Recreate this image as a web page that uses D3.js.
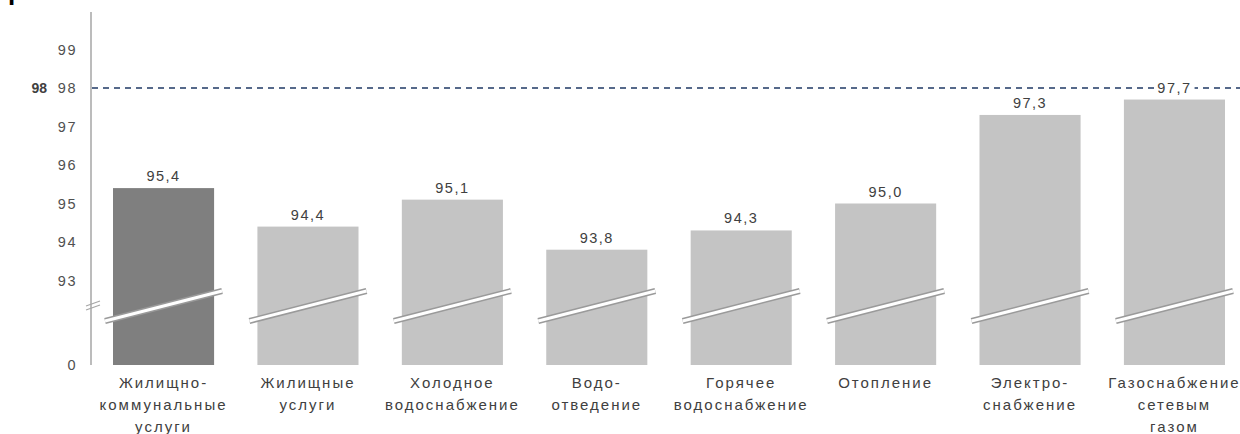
<!DOCTYPE html>
<html>
<head>
<meta charset="utf-8">
<script src="https://cdn.jsdelivr.net/npm/d3@7"></script>
<style>
  html, body { margin: 0; padding: 0; background: #fff; }
  svg { display: block; }
  text { font-family: "Liberation Sans", Arial, sans-serif; }
</style>
</head>
<body>
<svg id="chart" width="1240" height="434"></svg>
<script>
// Categories (each label split into its printed lines)
const categories = [
  ["Жилищно-", "коммунальные", "услуги"],
  ["Жилищные", "услуги"],
  ["Холодное", "водоснабжение"],
  ["Водо-", "отведение"],
  ["Горячее", "водоснабжение"],
  ["Отопление"],
  ["Электро-", "снабжение"],
  ["Газоснабжение", "сетевым", "газом"]
];
const values = [95.4, 94.4, 95.1, 93.8, 94.3, 95.0, 97.3, 97.7];
const valueLabels = ["95,4", "94,4", "95,1", "93,8", "94,3", "95,0", "97,3", "97,7"];
const tickValues = [0, 93, 94, 95, 96, 97, 98, 99];
const threshold = 98;
const highlightIndex = 0;

const svg = d3.select("#chart");
const keys = categories.map((c, i) => "c" + i);

// Broken value axis: 0 sits at the base, 93..99 spread evenly above the break
const y = d3.scaleLinear()
  .domain([0, 93, 99])
  .range([365, 280.5, 49.5]);

const x = d3.scaleBand()
  .domain(keys)
  .range([113, 1225])
  .paddingInner(0.3)
  .paddingOuter(0);

// Bold heading fragment cut at the top edge
svg.append("text")
  .attr("x", 8).attr("y", 0)
  .attr("font-family", "Liberation Serif, serif")
  .attr("font-weight", "bold")
  .attr("font-size", 26)
  .attr("fill", "#000")
  .text("р");

// Left axis line
const axisX = 91;
svg.append("line")
  .attr("x1", axisX).attr("x2", axisX)
  .attr("y1", 12).attr("y2", y(0))
  .attr("stroke", "#a6a6a6").attr("stroke-width", 1.5);

// Axis break marks
[0, 4].forEach(d => {
  svg.append("line")
    .attr("x1", axisX - 5).attr("y1", 306 + d)
    .attr("x2", axisX + 9).attr("y2", 301 + d)
    .attr("stroke", "#a6a6a6").attr("stroke-width", 1.3);
});

// Tick labels
const axis = d3.axisLeft(y).tickValues(tickValues).tickSize(0).tickPadding(0);
const gAxis = svg.append("g").attr("transform", `translate(${axisX - 14},0)`).call(axis);
gAxis.select(".domain").remove();
gAxis.selectAll("text")
  .attr("font-size", 14.5)
  .attr("letter-spacing", 1.5)
  .attr("fill", "#505050")
  .attr("font-family", "Liberation Sans, Arial, sans-serif");

// Bold threshold label on the far left
svg.append("text")
  .attr("x", 47).attr("y", y(threshold))
  .attr("dy", "0.35em")
  .attr("text-anchor", "end")
  .attr("font-size", 14)
  .attr("font-weight", "bold")
  .attr("fill", "#404040")
  .text(d3.format("d")(threshold));

// Bars
svg.append("g").selectAll("rect")
  .data(values)
  .join("rect")
  .attr("x", (d, i) => x(keys[i]))
  .attr("width", x.bandwidth())
  .attr("y", d => y(d))
  .attr("height", d => y(0) - y(d))
  .attr("fill", (d, i) => i === highlightIndex ? "#7f7f7f" : "#c4c4c4");

// Break bands across each bar
const breakG = svg.append("g");
keys.forEach(k => {
  const x0 = x(k) - 8, x1 = x(k) + x.bandwidth() + 8;
  const y0 = 321, y1 = 291;
  breakG.append("line")
    .attr("x1", x0).attr("y1", y0).attr("x2", x1).attr("y2", y1)
    .attr("stroke", "#9a9a9a").attr("stroke-width", 6);
  breakG.append("line")
    .attr("x1", x0).attr("y1", y0).attr("x2", x1).attr("y2", y1)
    .attr("stroke", "#ffffff").attr("stroke-width", 3);
});

// Threshold dashed line
svg.append("line")
  .attr("x1", axisX + 1).attr("x2", 1240)
  .attr("y1", y(threshold)).attr("y2", y(threshold))
  .attr("stroke", "#1f3864").attr("stroke-width", 1.6)
  .attr("stroke-dasharray", "6,5");

// Value labels above bars (white backing where they cross the dashed line)
const lab = svg.append("g");
values.forEach((v, i) => {
  const cx = x(keys[i]) + x.bandwidth() / 2;
  const ty = y(v) - 7;
  const t = lab.append("text")
    .attr("x", cx).attr("y", ty)
    .attr("text-anchor", "middle")
    .attr("font-size", 14.5)
    .attr("letter-spacing", 1.5)
    .attr("fill", "#404040")
    .text(valueLabels[i]);
  const bb = t.node().getBBox();
  lab.insert("rect", "text")
    .attr("x", bb.x - 3).attr("y", bb.y)
    .attr("width", bb.width + 6).attr("height", bb.height)
    .attr("fill", "#fff");
});

// Category labels
const catG = svg.append("g");
categories.forEach((lines, i) => {
  const cx = x(keys[i]) + x.bandwidth() / 2;
  const t = catG.append("text")
    .attr("text-anchor", "middle")
    .attr("font-size", 15)
    .attr("letter-spacing", 2)
    .attr("fill", "#404040");
  lines.forEach((ln, j) => {
    t.append("tspan").attr("x", cx).attr("y", 388 + j * 22).text(ln);
  });
});
</script>
</body>
</html>
